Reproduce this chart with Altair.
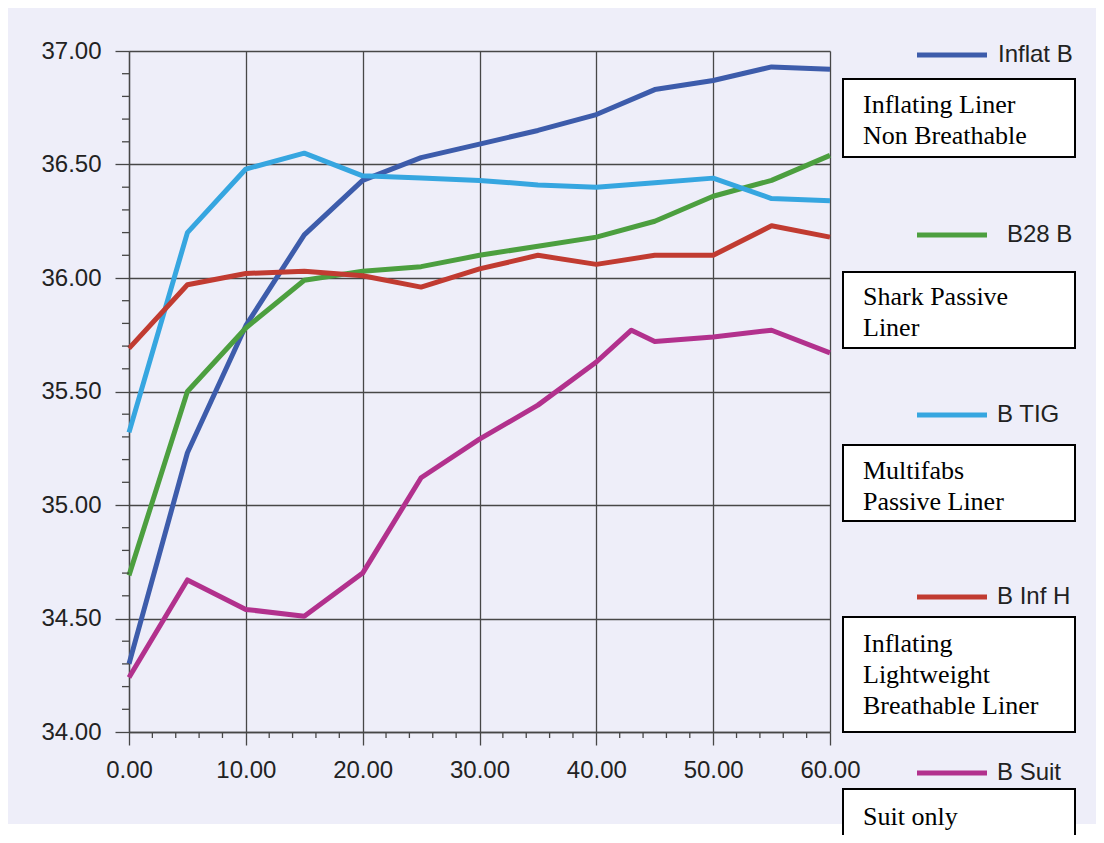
import altair as alt
import pandas as pd

# ---------------- data ----------------
times = [0, 5, 10, 15, 20, 25, 30, 35, 40, 45, 50, 55, 60]
suit_times = [0, 5, 10, 15, 20, 25, 30, 35, 40, 43, 45, 50, 55, 60]

inflat_b = [34.30, 35.23, 35.79, 36.19, 36.43, 36.53, 36.59, 36.65, 36.72, 36.83, 36.87, 36.93, 36.92]
b28_b = [34.69, 35.50, 35.78, 35.99, 36.03, 36.05, 36.10, 36.14, 36.18, 36.25, 36.36, 36.43, 36.54]
b_tig = [35.32, 36.20, 36.48, 36.55, 36.45, 36.44, 36.43, 36.41, 36.40, 36.42, 36.44, 36.35, 36.34]
b_inf_h = [35.69, 35.97, 36.02, 36.03, 36.01, 35.96, 36.04, 36.10, 36.06, 36.10, 36.10, 36.23, 36.18]
b_suit = [34.24, 34.67, 34.54, 34.51, 34.70, 35.12, 35.29, 35.44, 35.63, 35.77, 35.72, 35.74, 35.77, 35.67]

series_names = ["Inflat B", "B28 B", "B TIG", "B Inf H", "B Suit"]
series_colors = ["#3d5cab", "#4c9f3f", "#36a6e0", "#c13b31", "#b2318d"]
descriptions = [
    ["Inflating Liner", "Non Breathable"],
    ["Shark Passive", "Liner"],
    ["Multifabs", "Passive Liner"],
    ["Inflating", "Lightweight", "Breathable Liner"],
    ["Suit only"],
]

y_ticks = [34.0, 34.5, 35.0, 35.5, 36.0, 36.5, 37.0]
x_ticks = [0, 10, 20, 30, 40, 50, 60]
y_minor = [round(34 + i * 0.1, 1) for i in range(31) if i % 5 != 0]
x_minor = [i * 2 for i in range(31) if i % 5 != 0]

rows = []
for name, xs, ys in [("Inflat B", times, inflat_b), ("B28 B", times, b28_b),
                     ("B TIG", times, b_tig), ("B Inf H", times, b_inf_h),
                     ("B Suit", suit_times, b_suit)]:
    for xv, yv in zip(xs, ys):
        rows.append({"series": name, "t": xv, "v": yv})
df = pd.DataFrame(rows)

# ---------------- layout constants ----------------
W, H = 701, 681
GRID = "#474747"
LABEL = "#222222"
SANS = "Liberation Sans"
SERIF = "Liberation Serif"

x_scale = alt.Scale(domain=[0, 60], nice=False, zero=False)
y_scale = alt.Scale(domain=[34, 37], nice=False, zero=False)

x_axis = alt.Axis(
    values=x_ticks, format=".2f", title=None, grid=True, gridColor=GRID,
    gridWidth=1.3, gridOpacity=1, domainColor=GRID, domainWidth=1.3,
    tickColor=GRID, tickWidth=1.3, tickSize=13, labelPadding=13,
    labelFont=SANS, labelFontSize=24, labelColor=LABEL, labelFlush=False)
y_axis = alt.Axis(
    values=y_ticks, format=".2f", title=None, grid=True, gridColor=GRID,
    gridWidth=1.3, gridOpacity=1, domainColor=GRID, domainWidth=1.3,
    tickColor=GRID, tickWidth=1.3, tickSize=14, labelPadding=14,
    labelFont=SANS, labelFontSize=24, labelColor=LABEL, labelFlush=False)

lines = alt.Chart(df).mark_line(strokeWidth=5, strokeJoin="round").encode(
    x=alt.X("t:Q", scale=x_scale, axis=x_axis),
    y=alt.Y("v:Q", scale=y_scale, axis=y_axis),
    color=alt.Color("series:N", scale=alt.Scale(domain=series_names, range=series_colors),
                    legend=None),
    detail="series:N",
    order="t:Q",
)

y_minor_ticks = alt.Chart(pd.DataFrame({"v": y_minor})).mark_rule(
    color=GRID, strokeWidth=1.3).encode(
    y=alt.Y("v:Q", scale=y_scale, axis=y_axis),
    x=alt.value(-7), x2=alt.value(0))

x_minor_ticks = alt.Chart(pd.DataFrame({"t": x_minor})).mark_rule(
    color=GRID, strokeWidth=1.3).encode(
    x=alt.X("t:Q", scale=x_scale, axis=x_axis),
    y=alt.value(H), y2=alt.value(H + 6))


def one_row():
    return alt.Chart(pd.DataFrame({"k": [0]}))


layers = [lines, y_minor_ticks, x_minor_ticks]

# white strip at the bottom of the scanned page
layers.append(one_row().mark_rect(color="white").encode(
    x=alt.value(-130), x2=alt.value(980), y=alt.value(773), y2=alt.value(800)))

# custom legend
leg_y = [4, 184, 364, 546, 722]
leg_text_x = [869, 878, 868, 868, 868]
for name, col, ly, lx in zip(series_names, series_colors, leg_y, leg_text_x):
    layers.append(one_row().mark_rule(color=col, strokeWidth=5).encode(
        x=alt.value(788), x2=alt.value(858), y=alt.value(ly)))
    layers.append(one_row().mark_text(
        align="left", baseline="middle", font=SANS, fontSize=24, color=LABEL,
        text=name).encode(x=alt.value(lx), y=alt.value(ly)))

# description boxes
box_y = [(28, 106), (221, 297), (394, 470), (566, 681), (738, 800)]
text_y = [62, 254, 428, 601, 774]
for desc, (y0, y1), ty in zip(descriptions, box_y, text_y):
    layers.append(one_row().mark_rect(fill="white", stroke="black", strokeWidth=2).encode(
        x=alt.value(714), x2=alt.value(946), y=alt.value(y0), y2=alt.value(y1)))
    layers.append(one_row().mark_text(
        align="left", baseline="alphabetic", font=SERIF, fontSize=26, color="black",
        lineHeight=31, text=desc).encode(x=alt.value(734), y=alt.value(ty)))

chart = alt.layer(*layers).properties(
    width=W, height=H,
    autosize=alt.AutoSizeParams(type="none"),
    padding={"left": 121, "top": 43, "right": 266, "bottom": 103},
    background="#eeeef9",
).configure_view(stroke=None)

chart.save("out.html", embed_options={"renderer": "svg", "actions": False})
